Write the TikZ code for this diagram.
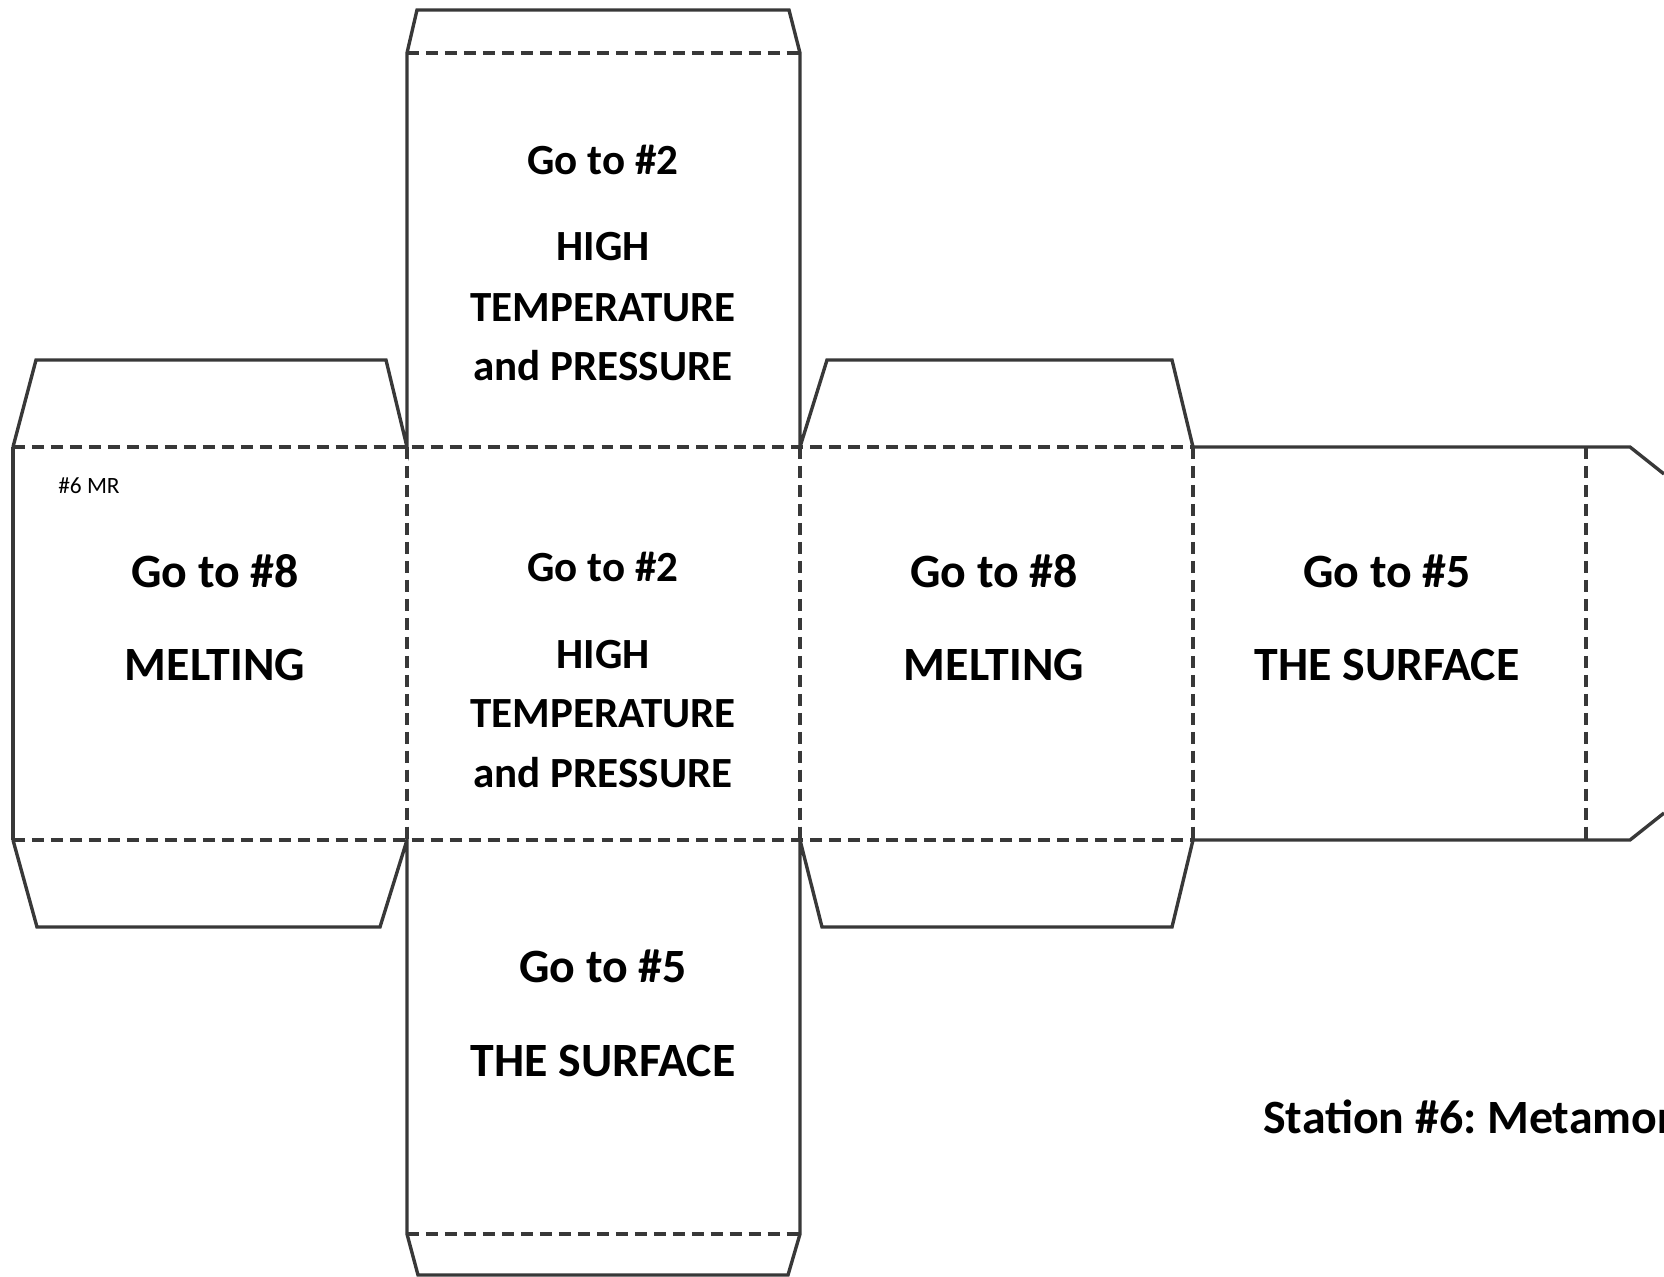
\documentclass[tikz,border=0pt]{standalone}
\usepackage{fontspec}
\setmainfont{Carlito}
\usetikzlibrary{positioning}

\tikzset{
	cutline/.style={draw=black!78, line width=2.4pt, line join=miter},
	foldline/.style={draw=black!78, line width=2.2pt, dash pattern=on 8.5pt off 5pt},
	bigtext/.style={font=\bfseries\fontsize{34}{40}\selectfont, inner sep=0pt, anchor=base},
	midtext/.style={font=\bfseries\fontsize{30.6}{36}\selectfont, inner sep=0pt, anchor=base},
	tagtext/.style={font=\fontsize{16.6}{20}\selectfont, inner sep=0pt, anchor=base west},
}
\frenchspacing

\begin{document}
\begin{tikzpicture}[x=0.025cm, y=-0.025cm]
		\useasboundingbox (0,0) rectangle (1664,1276);
		% outline of the net
		\draw[cutline] (13,447)--(13,840);
		\draw[cutline] (13,447)--(36,360)--(386,360)--(407,447)--(407,53)--(417,10)--(789,10)--(800,53)--(800,447)--(827,360)--(1172,360)--(1193,447)--(1630,447)--(1664,474);
		\draw[cutline] (13,840)--(37,927)--(380,927)--(407,840)--(407,1234)--(418,1275)--(788,1275)--(800,1234)--(800,840)--(822,927)--(1172,927)--(1193,840)--(1630,840)--(1664,813);
		% folds
		\draw[foldline] (13,447)--(1193,447);
		\draw[foldline] (13,840)--(1193,840);
		\draw[foldline] (407,53)--(800,53);
		\draw[foldline] (407,1234)--(800,1234);
		\foreach \x in {407,800,1193,1586}
			\draw[foldline] (\x,447)--(\x,840);
		% faces
		\node[midtext] (topgo) at (603,174) {Go to \#2};
		\node[midtext] (tophigh) at (603,260) {HIGH};
		\node[midtext] (toptemp) at (603,321) {TEMPERATURE};
		\node[midtext] (toppress) at (603,380) {and PRESSURE};
		\node[tagtext] (facetag) at (58,493) {\#6 MR};
		\node[bigtext] (leftgo) at (215,587) {Go to \#8};
		\node[bigtext] (leftmelt) at (215,680) {MELTING};
		\node[midtext] (midgo) at (603,581) {Go to \#2};
		\node[midtext] (midhigh) at (603,668) {HIGH};
		\node[midtext] (midtemp) at (603,727) {TEMPERATURE};
		\node[midtext] (midpress) at (603,787) {and PRESSURE};
		\node[bigtext] (rightgo) at (994,587) {Go to \#8};
		\node[bigtext] (rightmelt) at (994,680) {MELTING};
		\node[bigtext] (farrgo) at (1387,587) {Go to \#5};
		\node[bigtext] (farsurf) at (1387,680) {THE SURFACE};
		\node[bigtext] (botgo) at (603,982) {Go to \#5};
		\node[bigtext] (botsurf) at (603,1076) {THE SURFACE};
		\node[bigtext, anchor=base west] (station) at (1263,1133) {Station \#6: Metamor};
\end{tikzpicture}
\end{document}
